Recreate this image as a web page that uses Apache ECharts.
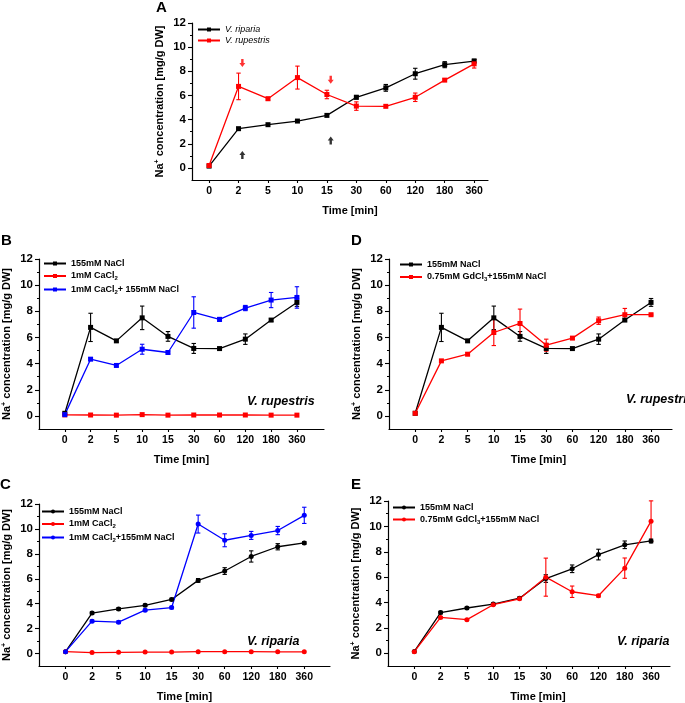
<!DOCTYPE html>
<html><head><meta charset="utf-8">
<script src="https://cdn.jsdelivr.net/npm/echarts@6/dist/echarts.min.js"></script>
<style>html,body{margin:0;padding:0;background:#fff}#c{width:685px;height:703px}</style>
</head><body><div id="c"></div>
<script>
// ---- data ----
const timeLabels = ['0','2','5','10','15','30','60','120','180','360'];
const yTickLabels = [0,2,4,6,8,10,12];

// Panel A
const A_riparia      = [0.15,3.25,3.58,3.88,4.35,5.85,6.63,7.80,8.55,8.85];
const A_riparia_err  = [0,0,0,0,0,0.15,0.28,0.45,0.25,0.15];
const A_rupestris    = [0.20,6.75,5.73,7.48,6.08,5.12,5.10,5.85,7.27,8.62];
const A_rupestris_err= [0,1.10,0.12,0.95,0.35,0.35,0,0.35,0.10,0.35];
const A_arrowsRed    = [[1.13,8.68],[4.13,7.30]];
const A_arrowsBlack  = [[1.13,1.08],[4.13,2.27]];

// Panel B (V. rupestris)
const B_nacl         = [0.20,6.77,5.74,7.50,6.08,5.16,5.15,5.87,7.33,8.68];
const B_nacl_err     = [0,1.08,0.10,0.90,0.37,0.38,0,0.40,0.10,0.30];
const B_cacl         = [0.08,0.07,0.06,0.10,0.06,0.07,0.07,0.07,0.06,0.06];
const B_cacl_nacl    = [0.10,4.34,3.86,5.10,4.85,7.91,7.38,8.25,8.86,9.06];
const B_cacl_nacl_err= [0,0.10,0.10,0.38,0.10,1.20,0.15,0.20,0.58,0.82];

// Panel C (V. riparia)
const C_nacl         = [0.15,3.25,3.58,3.87,4.34,5.87,6.62,7.79,8.57,8.88];
const C_nacl_err     = [0,0.10,0.10,0.10,0.10,0.15,0.27,0.45,0.25,0.10];
const C_cacl         = [0.15,0.08,0.10,0.12,0.12,0.15,0.15,0.15,0.14,0.14];
const C_cacl_nacl    = [0.15,2.60,2.52,3.48,3.69,10.39,9.09,9.48,9.87,11.09];
const C_cacl_nacl_err= [0,0.10,0.10,0.10,0.10,0.72,0.52,0.32,0.33,0.65];

// Panel D (V. rupestris)
const D_nacl         = [0.20,6.77,5.74,7.50,6.08,5.16,5.15,5.87,7.33,8.68];
const D_nacl_err     = [0,1.08,0.10,0.90,0.37,0.38,0,0.40,0.10,0.30];
const D_gd           = [0.20,4.21,4.72,6.38,7.07,5.41,5.95,7.28,7.74,7.74];
const D_gd_err       = [0,0.05,0.10,1.00,1.10,0.46,0.10,0.28,0.48,0.05];

// Panel E (V. riparia)
const E_nacl         = [0.15,3.21,3.57,3.88,4.34,5.89,6.66,7.78,8.55,8.85];
const E_nacl_err     = [0,0.10,0.08,0.08,0.10,0.30,0.30,0.42,0.30,0.15];
const E_gd           = [0.13,2.83,2.65,3.83,4.29,6.00,4.85,4.54,6.71,10.41];
const E_gd_err       = [0,0.05,0.05,0.05,0.05,1.50,0.45,0.10,0.80,1.60];

// ---- chart ----
const FONT = '"Liberation Sans", Arial, Helvetica, sans-serif';
const BLACK = '#000000', RED = '#ff0000', BLUE = '#0000ff';
const idx = timeLabels.map((_, i) => i);

const panels = [
  {key:'A', grid:{left:192,top:23,width:296,height:157}, xMin:-0.58, xMax:9.47, namePad:20,
   legend:{left:197, top:25, italic:true, itemGap:2},
   series:[
     {name:'V. riparia', vals:A_riparia, errs:A_riparia_err, color:BLACK, sym:'rect'},
     {name:'V. rupestris', vals:A_rupestris, errs:A_rupestris_err, color:RED, sym:'rect'}]},
  {key:'B', grid:{left:37,top:259,width:287,height:170}, xMin:-1, xMax:10.05, namePad:0,
   legend:{left:43, top:259, itemGap:3.5},
   series:[
     {name:'155mM NaCl', vals:B_nacl, errs:B_nacl_err, color:BLACK, sym:'rect'},
     {name:'1mM CaCl2', vals:B_cacl, errs:null, color:RED, sym:'rect'},
     {name:'1mM CaCl2+ 155mM NaCl', vals:B_cacl_nacl, errs:B_cacl_nacl_err, color:BLUE, sym:'rect'}]},
  {key:'D', grid:{left:389,top:259,width:283,height:170}, xMin:-1, xMax:9.8, namePad:16,
   legend:{left:399, top:260, itemGap:3.5},
   series:[
     {name:'155mM NaCl', vals:D_nacl, errs:D_nacl_err, color:BLACK, sym:'rect'},
     {name:'0.75mM GdCl3+155mM NaCl', vals:D_gd, errs:D_gd_err, color:RED, sym:'rect'}]},
  {key:'C', grid:{left:35,top:504,width:295,height:168}, xMin:-1, xMax:9.97, namePad:0,
   legend:{left:41, top:507, itemGap:3.5},
   series:[
     {name:'155mM NaCl', vals:C_nacl, errs:C_nacl_err, color:BLACK, sym:'circle'},
     {name:'1mM CaCl2', vals:C_cacl, errs:null, color:RED, sym:'circle'},
     {name:'1mM CaCl2+155mM NaCl', vals:C_cacl_nacl, errs:C_cacl_nacl_err, color:BLUE, sym:'circle'}]},
  {key:'E', grid:{left:388,top:501,width:282,height:171}, xMin:-1, xMax:9.72, namePad:18,
   legend:{left:392, top:503, itemGap:3},
   series:[
     {name:'155mM NaCl', vals:E_nacl, errs:E_nacl_err, color:BLACK, sym:'circle'},
     {name:'0.75mM GdCl3+155mM NaCl', vals:E_gd, errs:E_gd_err, color:RED, sym:'circle'}]}
];

const grids = [], xAxes = [], yAxes = [], series = [], legends = [];

function fmtName(n){
  return n.replace('CaCl2', 'CaCl{sub|2}').replace('GdCl3', 'GdCl{sub|3}');
}

panels.forEach((p, gi) => {
  grids.push(Object.assign({containLabel:false}, p.grid));
  xAxes.push({
    type:'value', gridIndex:gi, min:p.xMin, max:p.xMax,
    name:'Time [min]', nameLocation:'middle', nameGap:25,
    nameTextStyle:{fontFamily:FONT, fontSize:11, fontWeight:'bold', color:'#000', padding:[0,0,0,p.namePad]},
    axisLine:{show:true, onZero:false, lineStyle:{color:'#000', width:1.2}},
    axisTick:{show:true, inside:false, length:3, customValues:idx, lineStyle:{color:'#000', width:1.1}},
    axisLabel:{customValues:idx, formatter:v => timeLabels[Math.round(v)], margin:6,
      fontFamily:FONT, fontSize:10.5, fontWeight:'bold', color:'#000'},
    splitLine:{show:false}
  });
  yAxes.push({
    type:'value', gridIndex:gi, min:-1, max:12,
    name:'Na{sup|+} concentration [mg/g DW]', nameLocation:'middle', nameGap:26,
    nameTextStyle:{fontFamily:FONT, fontSize:11, fontWeight:'bold', color:'#000',
      rich:{sup:{fontFamily:FONT, fontSize:7, fontWeight:'bold', color:'#000', padding:[0,0,5,0]}}},
    axisLine:{show:true, onZero:false, lineStyle:{color:'#000', width:1.2}},
    axisTick:{show:true, inside:false, length:4, customValues:yTickLabels, lineStyle:{color:'#000', width:1.1}},
    axisLabel:{customValues:yTickLabels, margin:6, fontFamily:FONT, fontSize:11.5, fontWeight:'bold', color:'#000'},
    splitLine:{show:false}
  });
  // minor ticks
  yAxes.push({
    type:'value', gridIndex:gi, min:-1, max:12, position:'left', offset:0,
    axisLine:{show:false, onZero:false}, axisLabel:{show:false}, splitLine:{show:false},
    axisTick:{show:true, inside:false, length:2, customValues:[1,3,5,7,9,11], lineStyle:{color:'#000', width:1}}
  });

  const names = [];
  p.series.forEach(s => {
    const nm = p.key + '|' + s.name;
    names.push(nm);
    series.push({
      type:'line', name:nm, xAxisIndex:gi, yAxisIndex:gi*2,
      data:s.vals.map((v,i) => [i, v]),
      symbol:s.sym, symbolSize:5, showSymbol:true,
      lineStyle:{color:s.color, width:1.3}, itemStyle:{color:s.color},
      z:4, animation:false
    });
    if (s.errs) {
      const data = [];
      s.vals.forEach((v,i) => { if (s.errs[i] > 0) data.push([i, v - s.errs[i], v + s.errs[i]]); });
      const col = s.color;
      series.push({
        type:'custom', name:nm + ' err', xAxisIndex:gi, yAxisIndex:gi*2, data, z:3, silent:true, animation:false,
        encode:{x:0, y:[1,2]},
        renderItem(params, api){
          const x = api.value(0);
          const lo = api.coord([x, api.value(1)]);
          const hi = api.coord([x, api.value(2)]);
          const w = 2.2, st = {stroke:col, lineWidth:1.1};
          return {type:'group', children:[
            {type:'line', shape:{x1:lo[0],y1:lo[1],x2:hi[0],y2:hi[1]}, style:st},
            {type:'line', shape:{x1:hi[0]-w,y1:hi[1],x2:hi[0]+w,y2:hi[1]}, style:st},
            {type:'line', shape:{x1:lo[0]-w,y1:lo[1],x2:lo[0]+w,y2:lo[1]}, style:st}
          ]};
        }
      });
    }
  });
  legends.push({
    orient:'vertical', left:p.legend.left, top:p.legend.top, itemWidth:22, itemHeight:5,
    itemGap:p.legend.itemGap, selectedMode:false, padding:0, data:names,
    formatter:n => fmtName(n.split('|')[1]),
    textStyle:{fontFamily:FONT, fontSize:9, fontWeight:p.legend.italic ? 'normal' : 'bold',
      fontStyle:p.legend.italic ? 'italic' : 'normal', color:'#000',
      rich:{sub:{fontFamily:FONT, fontSize:6, fontWeight:'bold', color:'#000', padding:[5,0,0,0]}}}
  });
});

// arrows in panel A
const arrowPath = 'path://M3,0 L6,3.6 L4.2,3.6 L4.2,7 L1.8,7 L1.8,3.6 L0,3.6 Z';
series.push({type:'scatter', name:'arrowsRed', xAxisIndex:0, yAxisIndex:0, data:A_arrowsRed,
  symbol:arrowPath, symbolSize:[6,8], symbolRotate:180, itemStyle:{color:RED}, silent:true, animation:false, z:5});
series.push({type:'scatter', name:'arrowsBlack', xAxisIndex:0, yAxisIndex:0, data:A_arrowsBlack,
  symbol:arrowPath, symbolSize:[6,8], itemStyle:{color:BLACK}, silent:true, animation:false, z:5});

function txt(text, x, y, size, opts){
  return {type:'text', x, y, silent:true, style:{text, fill:'#000',
    font:(opts && opts.italic ? 'italic ' : '') + 'bold ' + size + 'px ' + FONT,
    textAlign:(opts && opts.align) || 'left', textVerticalAlign:'middle'}};
}

const graphics = [
  txt('A', 156, 8, 15), txt('B', 1, 241, 15), txt('D', 351, 241, 15),
  txt('C', 0, 485, 15), txt('E', 351, 485, 15),
  txt('V. rupestris', 247, 402, 12.5, {italic:true}),
  txt('V. rupestris', 626, 400, 12.5, {italic:true}),
  txt('V. riparia', 247, 642, 12.5, {italic:true}),
  txt('V. riparia', 617, 642, 12.5, {italic:true})
];

const chart = echarts.init(document.getElementById('c'), null, {renderer:'canvas'});
chart.setOption({
  animation:false, backgroundColor:'#fff',
  grid:grids, xAxis:xAxes, yAxis:yAxes, legend:legends, series,
  graphic:graphics
});
</script>
</body></html>
